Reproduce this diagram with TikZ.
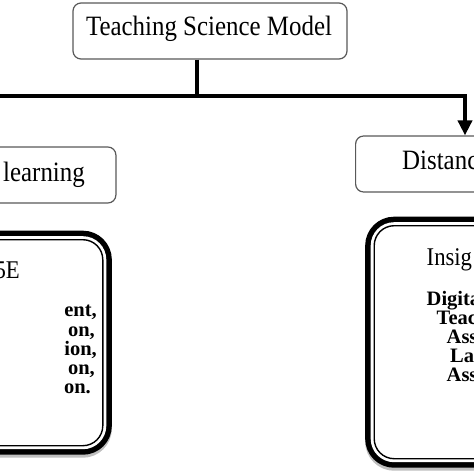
\documentclass[tikz,border=0pt]{standalone}
\usepackage{fontspec}
\setmainfont{Liberation Serif}[FakeStretch=0.89]
\newfontfamily\itemserif{Liberation Serif}
\usetikzlibrary{arrows.meta}

\tikzset{
  flatbox/.style={draw=black!65, line width=1.2pt, rounded corners=8pt, fill=white, inner sep=0pt},
  bigbox/.style={rounded corners=20pt, inner sep=0pt, fill=white,
    preaction={draw=black!25, line width=18pt, transform canvas={yshift=-3pt}},
    preaction={draw=black, line width=18pt},
    preaction={draw=white, line width=7pt},
    draw=black, line width=1.4pt},
  link/.style={line width=4pt},
  head/.style={font=\fontsize{28}{32}\selectfont, inner sep=0pt},
  title/.style={font=\fontsize{25.5}{30}\selectfont, inner sep=0pt},
  item/.style={font=\itemserif\bfseries\fontsize{20.5}{24}\selectfont, inner sep=0pt}
}

\begin{document}
\begin{tikzpicture}[x=1pt,y=-1pt]
	\useasboundingbox (0,0) rectangle (474,474);
	\clip (0,0) rectangle (474,474);
	% boxes
	\node[flatbox,minimum width=274pt,minimum height=56pt] (tsm) at (210,31) {};
	\node[flatbox,anchor=east,minimum width=200pt,minimum height=56pt] (ftf) at (116.5,175) {};
	\node[flatbox,anchor=west,minimum width=200pt,minimum height=56pt] (dist) at (355,164) {};
	\node[bigbox,anchor=north east,minimum width=200pt,minimum height=206pt] (fivee) at (103.5,239) {};
	\node[bigbox,anchor=north west,minimum width=200pt,minimum height=233pt] (insight) at (373.5,225) {};
	% labels
	\node[head,anchor=base] (tsmlabel) at (209,35) {Teaching Science Model};
	\node[head,anchor=base east] (ftflabel) at (85,181) {learning};
	\node[head,anchor=base west] (distlabel) at (402,169) {Distanc};
	\node[title,anchor=base east] (fiveetitle) at (20,278) {5E};
	\node[title,anchor=base west] (insighttitle) at (426.5,265) {Insig};
	\foreach \w/\xx/\yy [count=\i] in {{ent,}/97/316.5,{on,}/95/336,{ion,}/97/355,{on,}/95/374,{on.}/91/393}
		\node[item,anchor=base east] (fivee-\i) at (\xx,\yy) {\w};
	\foreach \w/\xx/\yy [count=\i] in {Digita/426.5/305,Teac/436.5/324,Ass/446.5/343,La/450/362,Ass/446.5/381}
		\node[item,anchor=base west] (insight-\i) at (\xx,\yy) {\w};
	% connectors
	\coordinate (hub) at (197,96);
	\coordinate (leftend) at (-10,96);
	\coordinate (rightturn) at (465,96);
	\draw[link] (tsm.south -| hub) -- (hub);
	\draw[link] (leftend) -- (hub);
	\draw[link,-{Triangle[length=15pt,width=14pt]}] (hub) -- (rightturn) -- (dist.north -| rightturn);
\end{tikzpicture}
\end{document}
